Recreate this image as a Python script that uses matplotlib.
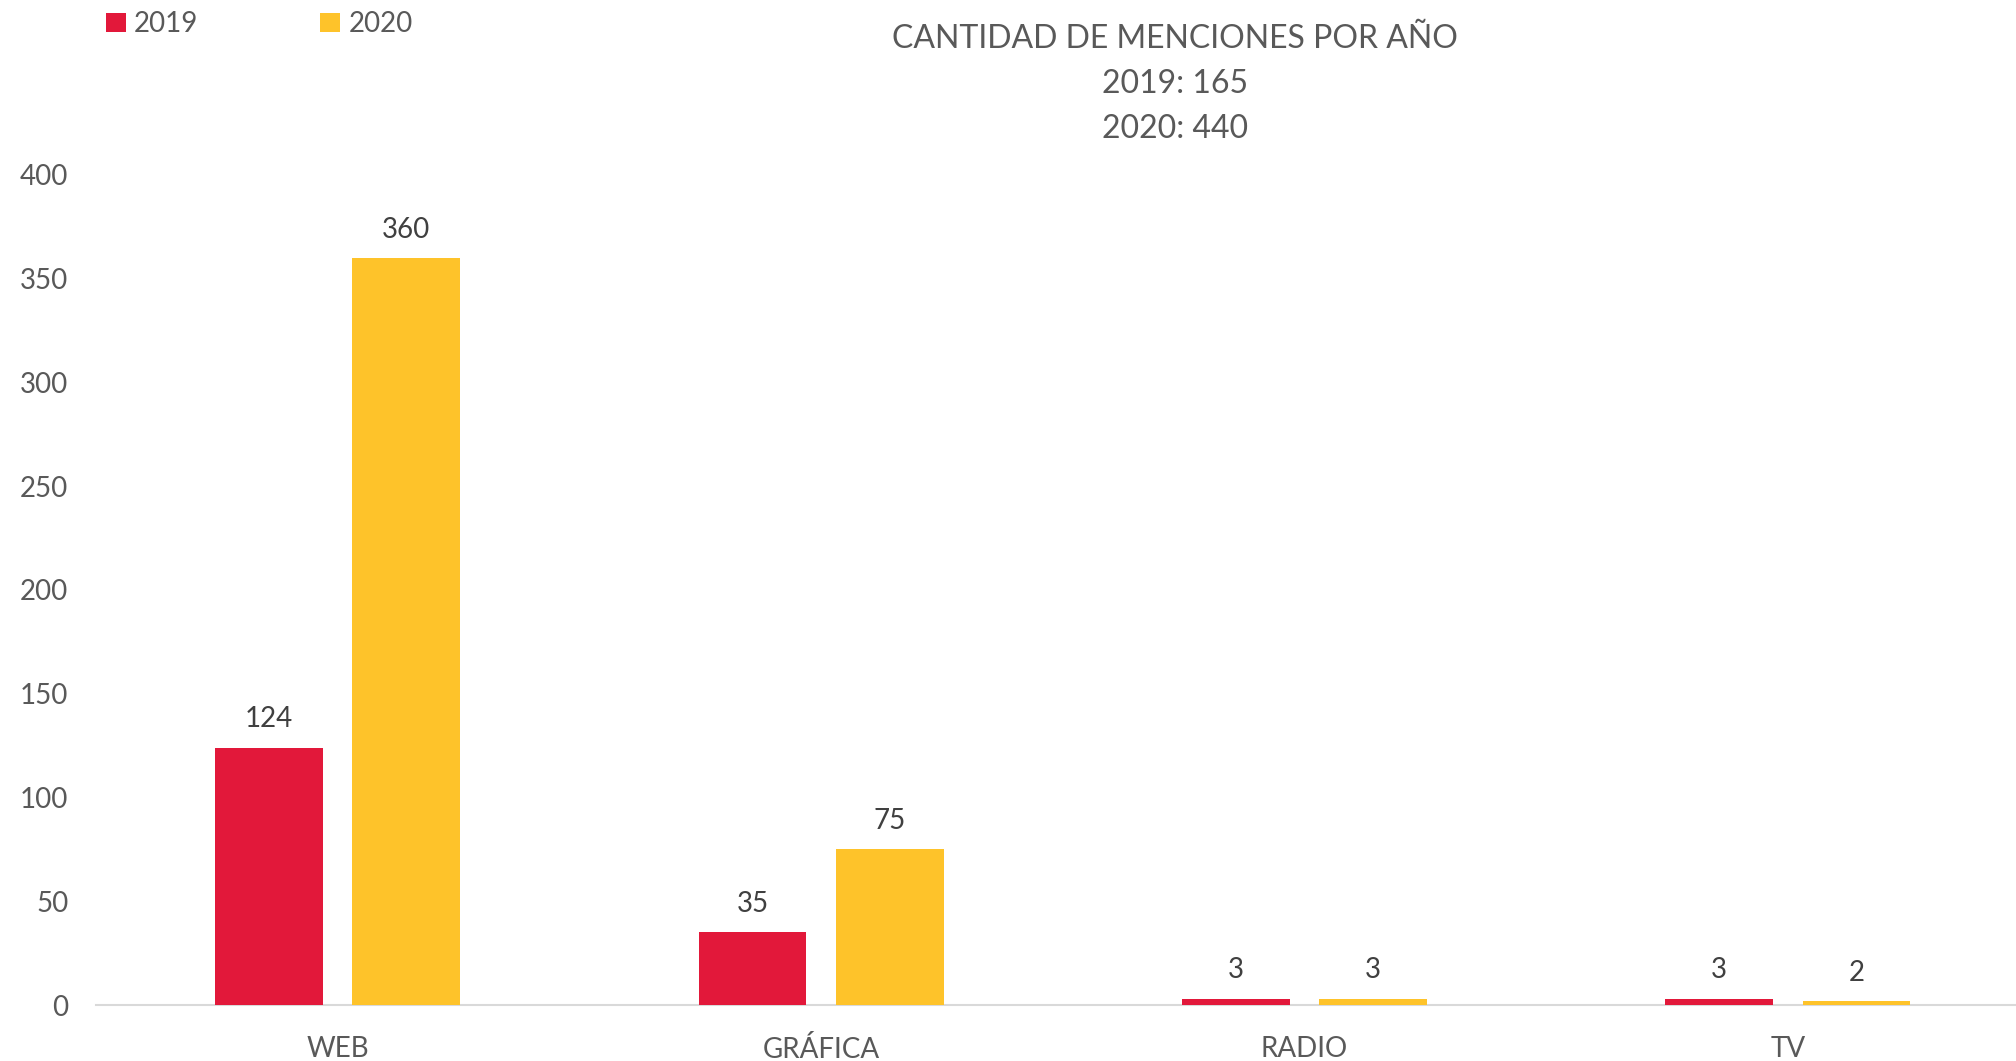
import matplotlib
matplotlib.use("Agg")
import matplotlib.pyplot as plt
import numpy as np

categories = ["WEB", "GRÁFICA", "RADIO", "TV"]
values_2019 = [124, 35, 3, 3]
values_2020 = [360, 75, 3, 2]
series_names = ["2019", "2020"]
yticks = [0, 50, 100, 150, 200, 250, 300, 350, 400]
title_lines = ["CANTIDAD DE MENCIONES POR AÑO", "2019: 165", "2020: 440"]

RED = "#E2183A"
YEL = "#FEC32A"
TICK = "#595959"
LAB = "#404040"

plt.rcParams['font.family'] = ['Lato', 'DejaVu Sans']

W, H = 2016, 1061
fig = plt.figure(figsize=(W / 100, H / 100), dpi=100)
fig.patch.set_facecolor("white")

left = 96 / W
bottom = (H - 1005) / H
top = (H - 175) / H
width = 4 * 483.4 / W
ax = fig.add_axes([left, bottom, width, top - bottom])
ax.set_facecolor("none")

x = np.arange(len(categories))
off = 0.142
bw = 0.223
b1 = ax.bar(x - off, values_2019, bw, color=RED, label=series_names[0], zorder=3)
b2 = ax.bar(x + off, values_2020, bw, color=YEL, label=series_names[1], zorder=3)

for bars, vals in ((b1, values_2019), (b2, values_2020)):
    for r, v in zip(bars, vals):
        ax.annotate(str(v), (r.get_x() + r.get_width() / 2, v),
                    xytext=(0, 11), textcoords="offset points",
                    ha="center", va="bottom", fontsize=20, color=LAB)

ax.set_xlim(-0.5, 3.5)
ax.set_ylim(0, 400)
ax.set_yticks(yticks)
ax.set_xticks(x)
ax.set_xticklabels(categories)
ax.tick_params(axis="both", length=0, labelsize=20, colors=TICK)
ax.tick_params(axis="x", pad=22)
ax.tick_params(axis="y", pad=20)
for s in ["top", "right", "left"]:
    ax.spines[s].set_visible(False)
ax.spines["bottom"].set_color("#D9D9D9")
ax.spines["bottom"].set_linewidth(1.5)
ax.spines["bottom"].set_zorder(2)

for i, line in enumerate(title_lines):
    fig.text(1175 / W, 1 - (39 + 45 * i) / H, line, ha="center", va="center",
             fontsize=23, color=TICK)

leg = fig.legend(handles=[b1, b2], labels=series_names, loc="upper left",
                 bbox_to_anchor=(95 / W, 1 - 0 / H), ncol=2, frameon=False,
                 fontsize=20, handlelength=0.7, handleheight=0.7,
                 handletextpad=0.3, columnspacing=4.4, borderaxespad=0)
for t in leg.get_texts():
    t.set_color(TICK)

fig.savefig("out.png", dpi=100, facecolor=fig.get_facecolor())
